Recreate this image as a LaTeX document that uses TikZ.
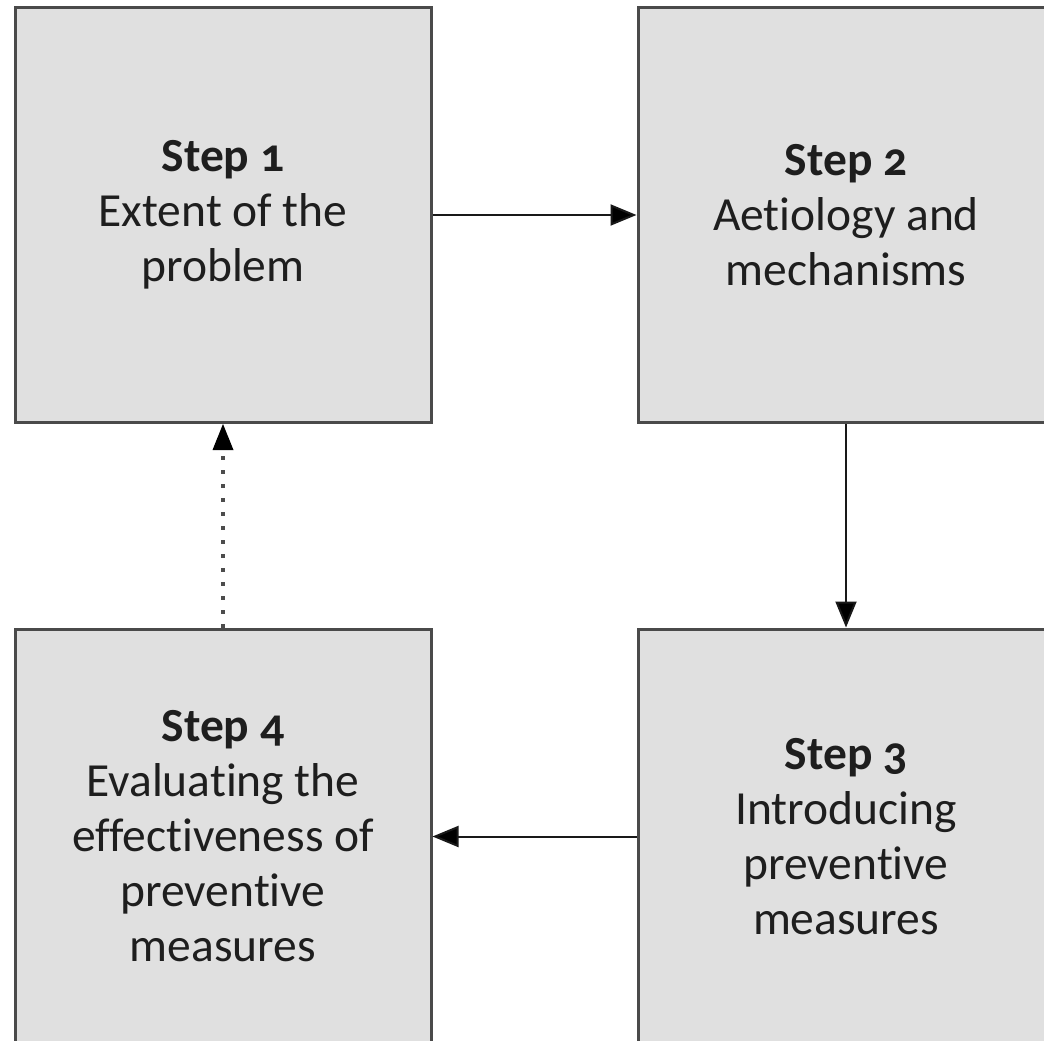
\documentclass[tikz,border=0pt]{standalone}
\usepackage{fontspec}
\setmainfont{Carlito}[Numbers=OldStyle,Ligatures={NoCommon}]
\usetikzlibrary{arrows.meta}
\definecolor{boxfill}{HTML}{E0E0E0}
\definecolor{boxline}{HTML}{4A4A4A}
\definecolor{txt}{HTML}{1E1E1E}
\tikzset{
  stepbox/.style={draw=boxline, line width=3pt, fill=boxfill, minimum width=416pt, minimum height=415pt, inner sep=0pt, align=center, text=txt, font=\fontsize{47.5}{55}\selectfont},
  flow/.style={draw=black!90, line width=2pt, -{Triangle[length=26pt,width=21pt,fill=black]}},
  fback/.style={draw=black!70, line width=3.5pt, dash pattern=on 3.5pt off 10.5pt, -{Triangle[length=26pt,width=21pt,fill=black,line width=0pt]}}
}
\begin{document}
\begin{tikzpicture}[x=1pt,y=-1pt]
\useasboundingbox (0,0) rectangle (1044,1041);
\clip (0,0) rectangle (1044,1041);
\fill[white] (0,0) rectangle (1044,1041);
\node[stepbox] (s1) at (223,215) {\textbf{Step 1}\\Extent of the\\problem};
\node[stepbox] (s2) at (846,215) {\textbf{Step 2}\\Aetiology and\\mechanisms};
\node[stepbox] (s3) at (846,836.5) {\textbf{Step 3}\\Introducing\\preventive\\measures};
\node[stepbox] (s4) at (223,836.5) {\textbf{Step 4}\\Evaluating the\\effectiveness of\\preventive\\measures};
\draw[flow] (s1.east) -- (s2.west);
\draw[flow] (s2.south) -- (s3.north);
\draw[flow] (s3.west) -- (s4.east);
\draw[fback] (s4.north) -- (s1.south);
\end{tikzpicture}
\end{document}
